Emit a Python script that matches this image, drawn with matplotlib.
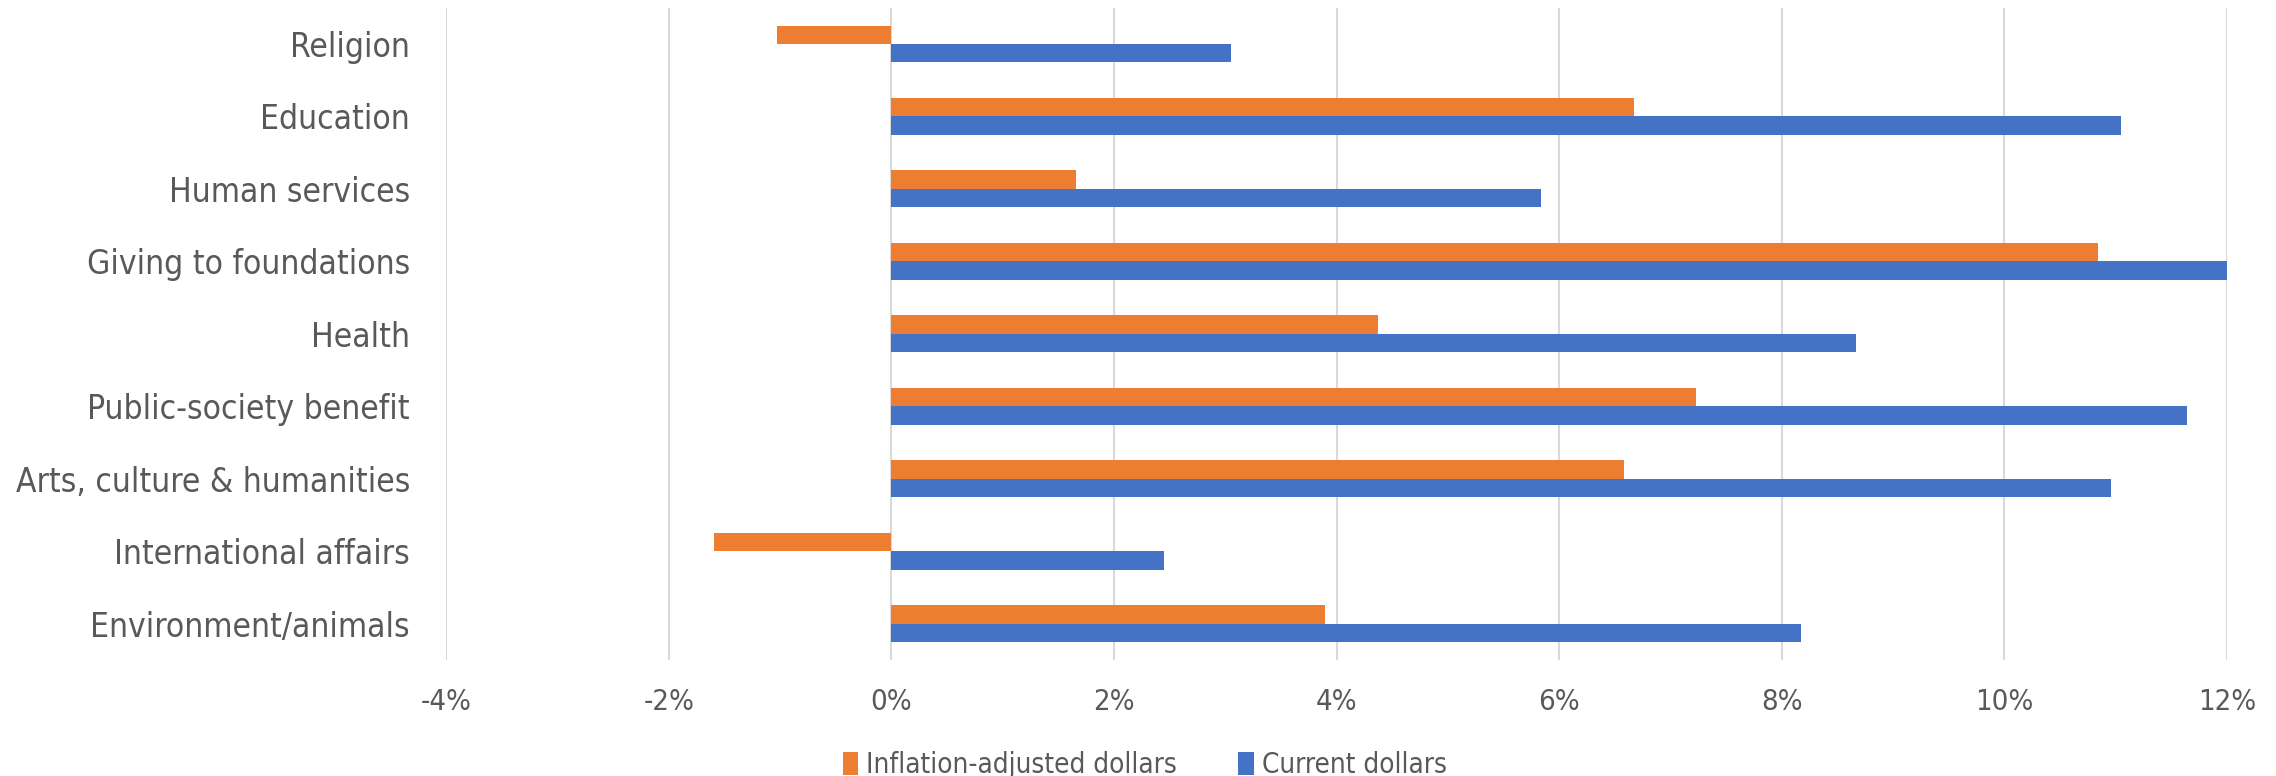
import numpy as np
import matplotlib.pyplot as plt
from matplotlib.ticker import FuncFormatter

# Growth in giving by recipient type
categories = ["Religion", "Education", "Human services", "Giving to foundations",
              "Health", "Public-society benefit", "Arts, culture & humanities",
              "International affairs", "Environment/animals"]
inflation_adjusted = [-1.03, 6.67, 1.66, 10.84, 4.37, 7.23, 6.58, -1.59, 3.90]
current_dollars = [3.05, 11.05, 5.84, 12.00, 8.67, 11.64, 10.96, 2.45, 8.17]
x_ticks = [-4, -2, 0, 2, 4, 6, 8, 10, 12]

orange = "#ED7D31"
blue = "#4472C4"
text_color = "#595959"
font = ["DejaVu Sans"]
stretch = "condensed"

fig = plt.figure(figsize=(22.76, 7.76), dpi=100)
ax = fig.add_axes([0.196, 0.1495, 0.7825, 0.8405])

y = np.arange(len(categories))
h = 0.255
ax.barh(y - h / 2, inflation_adjusted, height=h, color=orange,
        label="Inflation-adjusted dollars", zorder=3)
ax.barh(y + h / 2, current_dollars, height=h, color=blue,
        label="Current dollars", zorder=3)

ax.set_xlim(-4, 12)
ax.set_ylim(len(categories) - 0.5, -0.5)
ax.set_xticks(x_ticks)
ax.xaxis.set_major_formatter(FuncFormatter(lambda v, p: f"{v:.0f}%"))
ax.set_yticks(y)
ax.set_yticklabels(categories)

ax.grid(axis="x", color="#D9D9D9", linewidth=1.5, zorder=0)
for s in ax.spines.values():
    s.set_visible(False)
ax.tick_params(axis="both", length=0, colors=text_color)
ax.tick_params(axis="y", pad=26)
ax.tick_params(axis="x", pad=20)
for lbl in ax.get_yticklabels():
    lbl.set_fontfamily(font)
    lbl.set_fontstretch(stretch)
    lbl.set_fontsize(24)
for lbl in ax.get_xticklabels():
    lbl.set_fontfamily(font)
    lbl.set_fontstretch(stretch)
    lbl.set_fontsize(21)

fig.legend(loc="center", bbox_to_anchor=(0.503, 0.014), ncol=2, frameon=False,
           prop={"family": font, "stretch": stretch, "size": 20},
           labelcolor=text_color,
           handlelength=0.55, handleheight=0.9, handletextpad=0.3,
           columnspacing=2.2)

fig.savefig("out.png", dpi=100)
